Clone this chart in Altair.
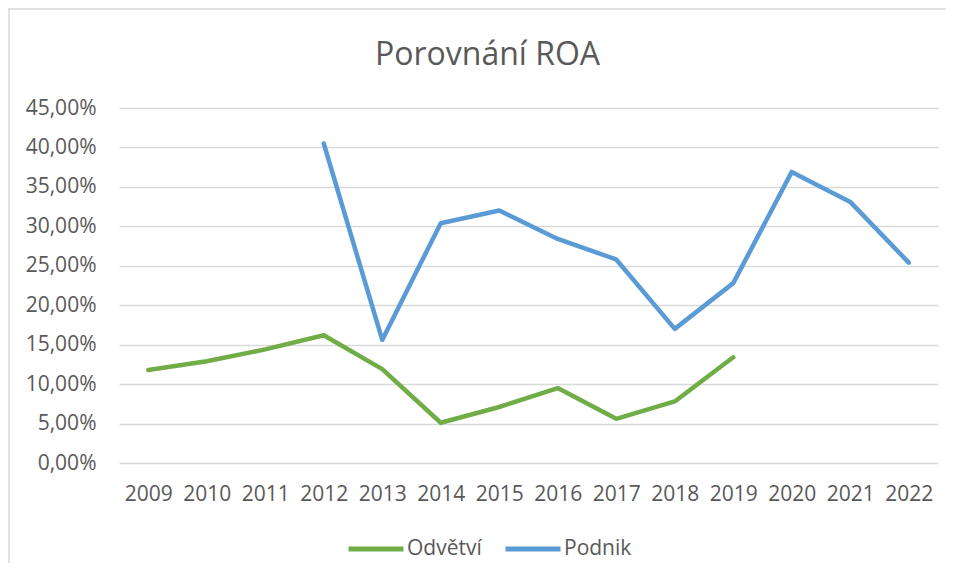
import altair as alt
import pandas as pd

years = [2009, 2010, 2011, 2012, 2013, 2014, 2015, 2016, 2017, 2018, 2019, 2020, 2021, 2022]
odvetvi = [0.118, 0.129, 0.144, 0.162, 0.119, 0.051, 0.071, 0.095, 0.056, 0.078, 0.134, None, None, None]
podnik = [None, None, None, 0.405, 0.156, 0.304, 0.320, 0.284, 0.258, 0.170, 0.228, 0.369, 0.331, 0.254]
series_names = ["Odvětví", "Podnik"]
series_colors = ["#70ad47", "#5b9bd5"]
y_ticks = [0, 0.05, 0.10, 0.15, 0.20, 0.25, 0.30, 0.35, 0.40, 0.45]

rows = []
for name, vals in zip(series_names, [odvetvi, podnik]):
    for yr, v in zip(years, vals):
        if v is not None:
            rows.append({"rok": str(yr), "serie": name, "hodnota": v})
df = pd.DataFrame(rows)

FONT = "Open Sans"
TXT = "#595959"
GRID = "#d9d9d9"

lines = alt.Chart(df).mark_line(strokeWidth=4.5, strokeCap="round", strokeJoin="round").encode(
    x=alt.X("rok:O", scale=alt.Scale(type="point", domain=[str(y) for y in years], padding=0.5),
            axis=alt.Axis(title=None, labelAngle=0, domain=False, ticks=False, grid=False,
                          labelFontSize=21, labelColor=TXT, labelFont=FONT, labelPadding=20)),
    y=alt.Y("hodnota:Q", scale=alt.Scale(domain=[0, 0.45], nice=False),
            axis=alt.Axis(title=None, values=y_ticks, domain=False, ticks=False, grid=True,
                          gridColor=GRID, gridWidth=1.5,
                          labelExpr="replace(format(datum.value, '.2%'), '.', ',')",
                          labelFontSize=21, labelColor=TXT, labelFont=FONT, labelPadding=23)),
    color=alt.Color("serie:N", scale=alt.Scale(domain=series_names, range=series_colors),
                    legend=alt.Legend(title=None, orient="none", direction="horizontal",
                                      legendX=227, legendY=411, symbolType="stroke",
                                      symbolSize=3025, symbolStrokeWidth=5, labelFontSize=21,
                                      labelColor=TXT, labelFont=FONT, labelOffset=1,
                                      columnPadding=13, padding=0)),
    detail="serie:N",
)

border_data = alt.Data(values=[{"a": 1}])
border_top = alt.Chart(border_data).mark_rule(color=GRID, strokeWidth=1.5).encode(
    x=alt.value(-111), x2=alt.value(840), y=alt.value(-99)
)
border_left = alt.Chart(border_data).mark_rule(color=GRID, strokeWidth=1.5).encode(
    x=alt.value(-110), y=alt.value(-99), y2=alt.value(470)
)

chart = alt.layer(border_top, border_left, lines).properties(
    width=819, height=355,
    title=alt.TitleParams("Porovnání ROA", fontSize=32, font=FONT, fontWeight="normal",
                          color=TXT, dx=-41, offset=-64, anchor="middle"),
    autosize=alt.AutoSizeParams(type="none"),
    padding={"left": 111, "top": 100, "right": 8, "bottom": 100},
).configure_view(stroke=None)

chart.save("out.html", embed_options={"renderer": "svg", "actions": False})
